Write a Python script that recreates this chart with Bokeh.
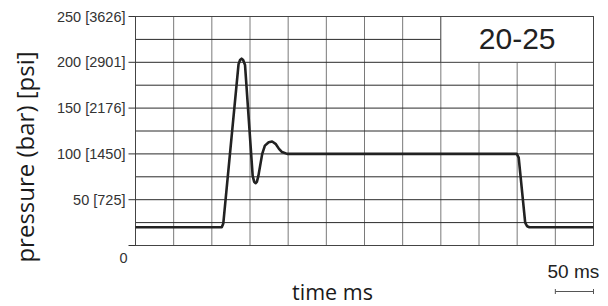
from bokeh.plotting import figure
from bokeh.models import Range1d
from bokeh.core.properties import value
from bokeh.embed import file_html
from bokeh.resources import INLINE
import math

# ---- data ----
time_ms = [0, 113, 115, 135, 137, 139, 141, 143.5, 153.5, 155.5, 157.2, 159, 161,
           166, 169.5, 174.5, 179, 183.5, 188, 192, 198.7, 499.5, 502, 510.5, 513, 516, 600]
pressure_bar = [20, 20, 24, 198, 202.5, 204, 202.5, 197, 76, 69.5, 68, 69.5, 76,
                100, 109, 112.8, 113.5, 111, 105.5, 102, 100, 100, 96, 25, 21, 20, 20]
y_ticks = [50, 100, 150, 200, 250]
y_tick_labels = ["50 [725]", "100 [1450]", "150 [2176]", "200 [2901]", "250 [3626]"]
x_grid = list(range(0, 601, 50))
y_grid = list(range(0, 251, 25))
x_span = [0, 600]
y_span = [0, 250]
box_label = "20-25"
box_x = [400, 600]
box_y = [200, 250]
scale_ms = [550, 600]

# ---- layout (pixels) ----
W, H = 608, 306
left_px, right_px, top_px, bottom_px = 135, 593, 16, 245
sx = (right_px - left_px) / (x_span[1] - x_span[0])   # px per ms
sy = (bottom_px - top_px) / (y_span[1] - y_span[0])   # px per bar


def dx(px):  # pixel offset -> ms
    return px / sx


def dy(px):  # pixel offset -> bar
    return px / sy


p = figure(width=W, height=H, output_backend="svg", toolbar_location=None,
           x_range=Range1d(x_span[0] - dx(left_px), x_span[0] + dx(W - left_px)),
           y_range=Range1d(y_span[0] - dy(H - bottom_px), y_span[0] + dy(bottom_px)),
           min_border=0)
p.axis.visible = False
p.grid.visible = False
p.outline_line_color = None
p.background_fill_color = "white"
p.border_fill_color = "white"

# grid
p.segment(x0=x_grid, x1=x_grid, y0=[y_span[0]] * len(x_grid), y1=[y_span[1]] * len(x_grid),
          line_color="#7a7a7a", line_width=1)
p.segment(x0=[x_span[0]] * len(y_grid), x1=[x_span[1]] * len(y_grid), y0=y_grid, y1=y_grid,
          line_color="#2a2a2a", line_width=1)

# box with label
p.quad(left=[box_x[0]], right=[box_x[1]], bottom=[box_y[0]], top=[box_y[1]],
       fill_color="white", line_color="#555555", line_width=1)
p.text(x=[(box_x[0] + box_x[1]) / 2], y=[(box_y[0] + box_y[1]) / 2], text=[box_label],
       text_font=value("Liberation Sans"), text_font_size="30px", text_color="#222222",
       text_align="center", text_baseline="middle")

# plot outline
p.quad(left=[x_span[0]], right=[x_span[1]], bottom=[y_span[0]], top=[y_span[1]],
       fill_color=None, line_color="#444444", line_width=1)

# y ticks and labels
tick_vals = [0] + y_ticks
p.segment(x0=[x_span[0] - dx(7)] * len(tick_vals), x1=[x_span[0]] * len(tick_vals),
          y0=tick_vals, y1=tick_vals, line_color="#333333", line_width=1)
p.text(x=[x_span[0] - dx(10)] * len(y_ticks), y=y_ticks, text=y_tick_labels,
       text_font=value("Liberation Sans"), text_font_size="14.5px", text_color="#333333",
       text_align="right", text_baseline="middle")
p.text(x=[x_span[0] - dx(12)], y=[y_span[0] - dy(12)], text=["0"],
       text_font=value("Liberation Sans"), text_font_size="14.5px", text_color="#333333",
       text_align="center", text_baseline="middle")

# axis titles
p.text(x=[x_span[0] - dx(111)], y=[y_span[0] + dy(88.5)], text=["pressure (bar) [psi]"],
       text_font=value("Open Sans"), text_font_size="24px", text_color="#1a1a1a",
       angle=math.pi / 2, text_align="center", text_baseline="middle")
p.text(x=[x_span[0] + dx(197)], y=[y_span[0] - dy(46)], text=["time ms"],
       text_font=value("Open Sans"), text_font_size="21.5px", text_color="#1a1a1a",
       text_align="center", text_baseline="middle")

# scale bar
p.text(x=[(scale_ms[0] + scale_ms[1]) / 2 + dx(-1)], y=[y_span[0] - dy(26)], text=["50 ms"],
       text_font=value("Liberation Sans"), text_font_size="19px", text_color="#222222",
       text_align="center", text_baseline="middle")
bar_y = y_span[0] - dy(46)
p.segment(x0=[scale_ms[0]], x1=[scale_ms[1]], y0=[bar_y], y1=[bar_y],
          line_color="#555555", line_width=1)
p.segment(x0=scale_ms, x1=scale_ms, y0=[bar_y - dy(2.5)] * 2, y1=[bar_y + dy(2.5)] * 2,
          line_color="#555555", line_width=1)

# curve
p.line(time_ms, pressure_bar, line_color="#222222", line_width=2.6, line_join="round")

open("out.html", "w").write(file_html(p, INLINE))
